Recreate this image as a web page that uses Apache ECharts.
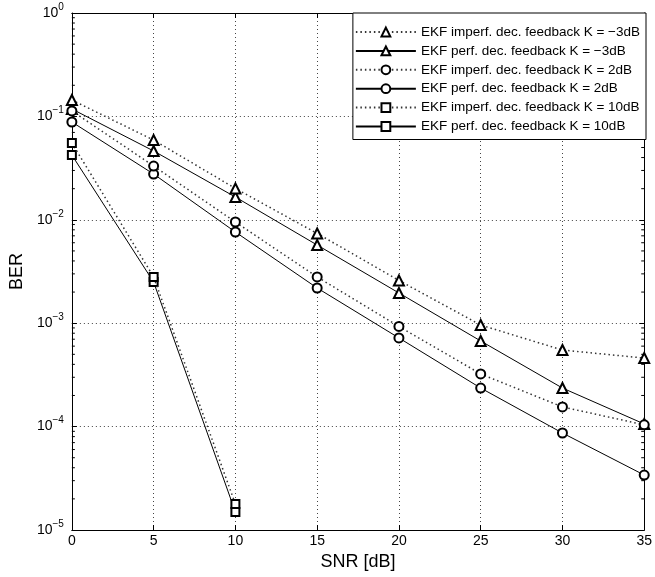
<!DOCTYPE html>
<html>
<head>
<meta charset="utf-8">
<script src="https://cdn.jsdelivr.net/npm/echarts@6/dist/echarts.min.js"></script>
<style>html,body{margin:0;padding:0;background:#fff}#c{width:655px;height:577px}</style>
</head>
<body>
<div id="c"></div>
<script>
const snr = [0, 5, 10, 15, 20, 25, 30, 35];
const snrShort = [0, 5, 10];
const triImperf = [0.144, 0.059, 0.0201, 0.00738, 0.00259, 0.00096, 0.00055, 0.00046];
const triPerf = [0.118, 0.0463, 0.0166, 0.0057, 0.00196, 0.000673, 0.000236, 0.000106];
const cirImperf = [0.113, 0.0331, 0.00952, 0.0028, 0.00093, 0.000323, 0.000155, 0.000104];
const cirPerf = [0.0883, 0.0277, 0.00762, 0.00219, 0.00072, 0.000236, 0.0000867, 0.000034];
const sqImperf = [0.0553, 0.0028, 0.0000178];
const sqPerf = [0.0423, 0.0025, 0.0000149];
const names = [
  'EKF imperf. dec. feedback K = \u22123dB',
  'EKF perf. dec. feedback K = \u22123dB',
  'EKF imperf. dec. feedback K = 2dB',
  'EKF perf. dec. feedback K = 2dB',
  'EKF imperf. dec. feedback K = 10dB',
  'EKF perf. dec. feedback K = 10dB'
];
const minorMantissa = [2, 3, 4, 5, 6, 7, 8, 9];
const decades = [-5, -4, -3, -2, -1];

const FONT = 'Liberation Sans, Arial, Helvetica, sans-serif';
function pairs(xs, ys) { return xs.map((x, i) => [x, ys[i]]); }

const minorVals = [];
decades.forEach(d => minorMantissa.forEach(m => minorVals.push([0, m * Math.pow(10, d)])));

function mkSeries(name, xs, ys, sym, bold, dotted) {
  return {
    name: name, type: 'line', data: pairs(xs, ys),
    symbol: sym, symbolSize: sym === 'emptyRect' ? 8 : (sym === 'emptyTriangle' ? 10 : 9),
    showSymbol: true, z: bold ? 4 : 3,
    lineStyle: { color: dotted ? '#333' : '#000', width: dotted ? 1.5 : 1, type: dotted ? [1.5, 3] : 'solid' },
    itemStyle: { color: '#000', borderColor: '#000', borderWidth: bold ? 2.8 : 1 },
    emphasis: { disabled: true }, animation: false
  };
}

const chart = echarts.init(document.getElementById('c'), null, { renderer: 'canvas' });
const option = {
  animation: false,
  backgroundColor: '#fff',
  textStyle: { fontFamily: FONT },
  grid: { left: 66, right: 7, top: 13, bottom: 47, containLabel: false },
  legend: {
    data: names, orient: 'vertical', right: 9, top: 13,
    backgroundColor: '#fff', borderColor: '#000', borderWidth: 1,
    padding: [12, 6, 6, 2], itemWidth: 60, itemHeight: 11, itemGap: 4.9,
    textStyle: { fontFamily: FONT, fontSize: 13.5, color: '#000' }, z: 20,
    selectedMode: false
  },
  xAxis: [{
    type: 'value', min: 0, max: 35, interval: 5, position: 'bottom',
    name: 'SNR [dB]', nameLocation: 'middle', nameGap: 22,
    nameTextStyle: { fontFamily: FONT, fontSize: 18, color: '#000' },
    axisLine: { show: true, onZero: false, lineStyle: { color: '#000', width: 1 } },
    axisTick: { show: true, inside: true, length: 5, lineStyle: { color: '#000' } },
    axisLabel: { fontFamily: FONT, fontSize: 14, color: '#000', margin: 4 },
    splitLine: { show: true, lineStyle: { color: '#444', type: [1, 3], width: 1 } }
  }, {
    type: 'value', min: 0, max: 35, interval: 5, position: 'top',
    axisLine: { show: true, onZero: false, lineStyle: { color: '#000', width: 1 } },
    axisTick: { show: true, inside: true, length: 5, lineStyle: { color: '#000' } },
    axisLabel: { show: false }, splitLine: { show: false }
  }],
  yAxis: [{
    type: 'log', logBase: 10, min: 1e-5, max: 1, position: 'left',
    name: 'BER', nameLocation: 'middle', nameGap: 39, nameRotate: 90,
    nameTextStyle: { fontFamily: FONT, fontSize: 18, color: '#000' },
    axisLine: { show: true, onZero: false, lineStyle: { color: '#000', width: 1 } },
    axisTick: { show: true, inside: true, length: 5, lineStyle: { color: '#000' } },
    axisLabel: {
      margin: 8,
      formatter: function (v) {
        const e = Math.round(Math.log10(v));
        return '{b|10}{s|' + (e < 0 ? '\u2212' + (-e) : e) + '}';
      },
      rich: {
        b: { fontFamily: FONT, fontSize: 14, color: '#000', lineHeight: 22, verticalAlign: 'middle' },
        s: { fontFamily: FONT, fontSize: 10, color: '#000', lineHeight: 12, verticalAlign: 'top' }
      }
    },
    splitLine: { show: true, lineStyle: { color: '#444', type: [1, 3], width: 1 } }
  }, {
    type: 'log', logBase: 10, min: 1e-5, max: 1, position: 'right',
    axisLine: { show: true, onZero: false, lineStyle: { color: '#000', width: 1 } },
    axisTick: { show: true, inside: true, length: 5, lineStyle: { color: '#000' } },
    axisLabel: { show: false }, splitLine: { show: false }
  }],
  series: [
    mkSeries(names[0], snr, triImperf, 'emptyTriangle', true, true),
    mkSeries(names[1], snr, triPerf, 'emptyTriangle', false, false),
    mkSeries(names[2], snr, cirImperf, 'emptyCircle', true, true),
    mkSeries(names[3], snr, cirPerf, 'emptyCircle', false, false),
    mkSeries(names[4], snrShort, sqImperf, 'emptyRect', true, true),
    mkSeries(names[5], snrShort, sqPerf, 'emptyRect', false, false),
    {
      type: 'custom', name: 'minorTicks', data: minorVals, silent: true, z: 2,
      renderItem: function (params, api) {
        const v = api.value(1);
        const l = api.coord([0, v]);
        const r = api.coord([35, v]);
        return {
          type: 'group', children: [
            { type: 'line', shape: { x1: l[0], y1: l[1], x2: l[0] + 3, y2: l[1] }, style: { stroke: '#000', lineWidth: 1 } },
            { type: 'line', shape: { x1: r[0], y1: r[1], x2: r[0] - 3, y2: r[1] }, style: { stroke: '#000', lineWidth: 1 } }
          ]
        };
      }
    }
  ]
};
chart.setOption(option);
</script>
</body>
</html>
